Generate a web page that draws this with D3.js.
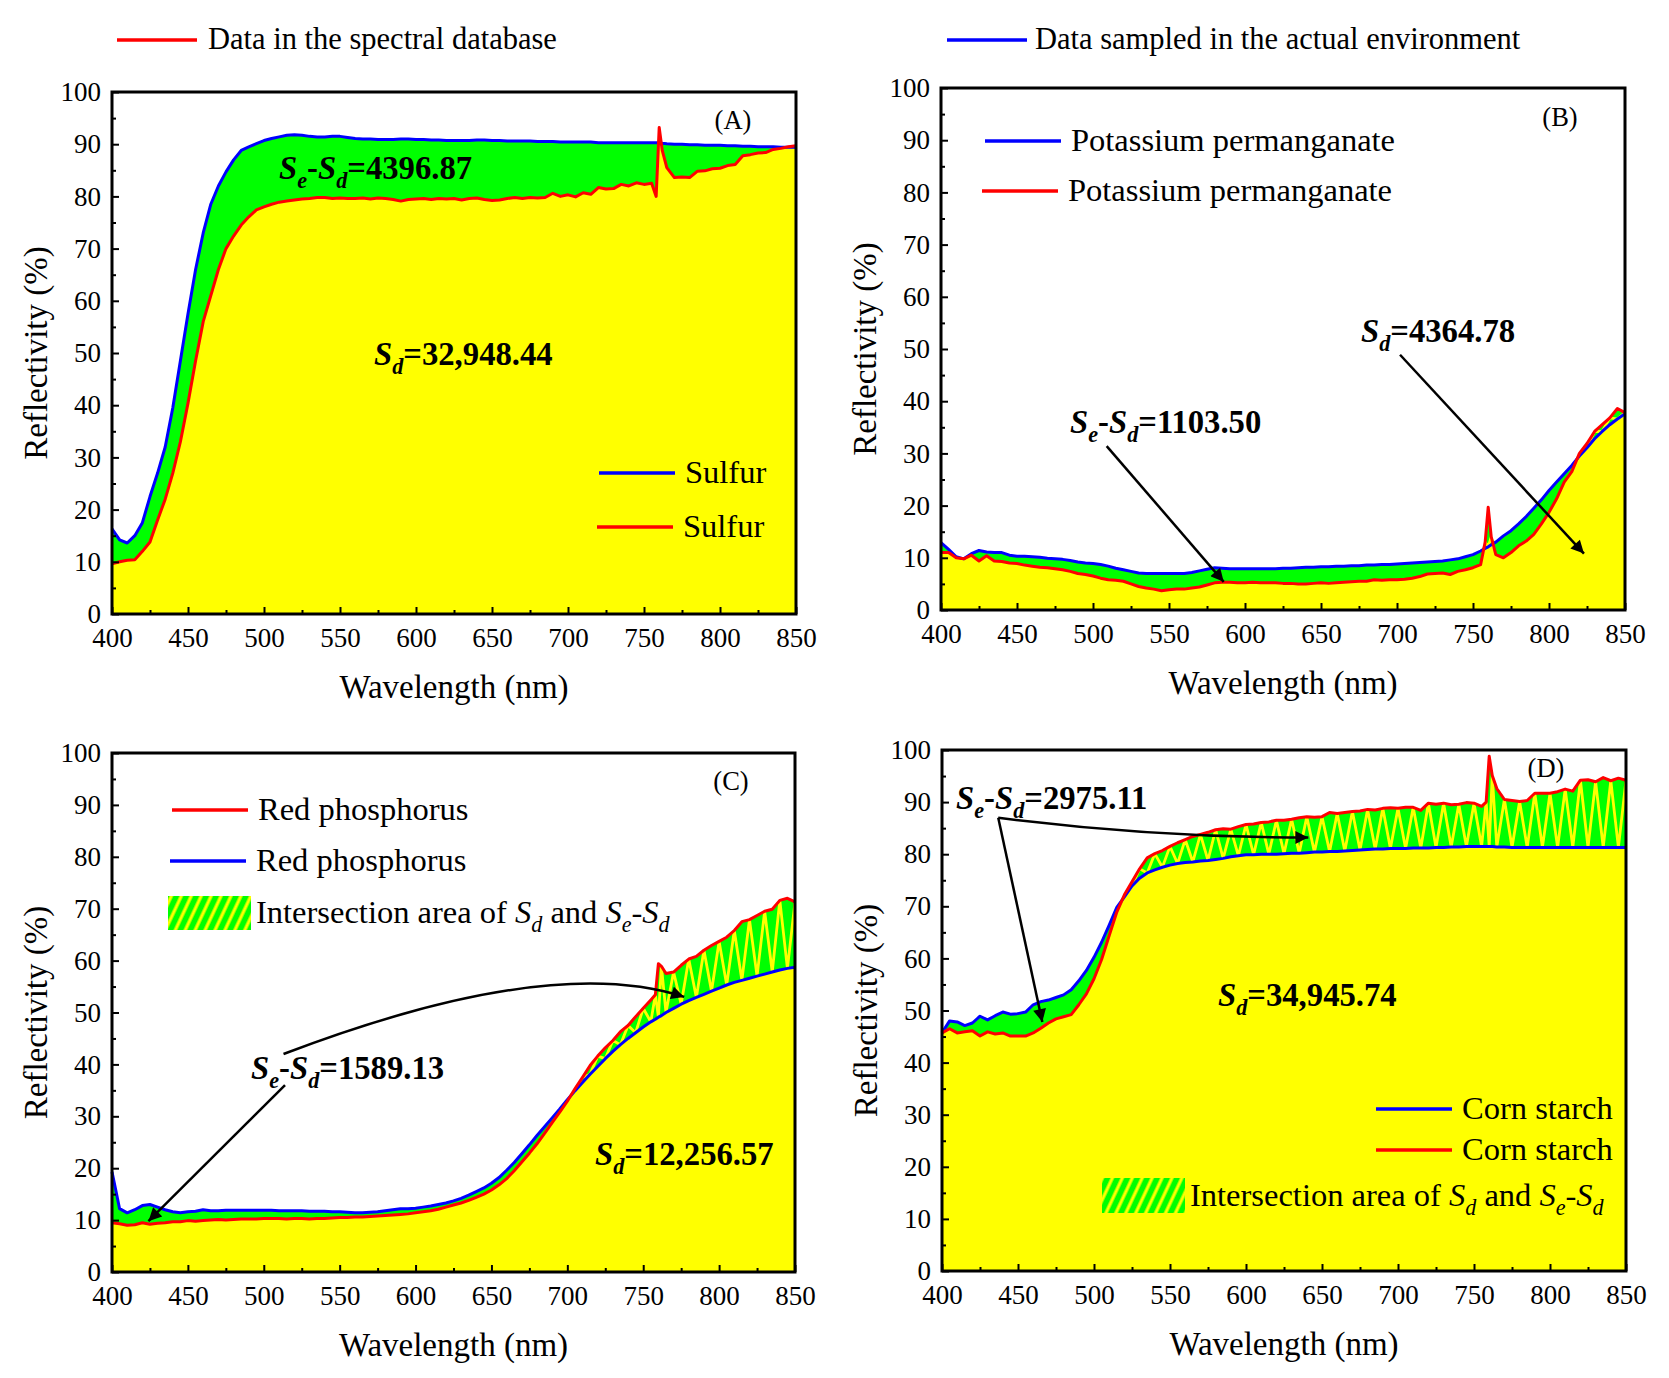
<!DOCTYPE html>
<html>
<head>
<meta charset="utf-8">
<script src="https://cdn.jsdelivr.net/npm/d3@7"></script>
<style>
body { margin: 0; background: #fff; }
svg { display: block; font-family: "Liberation Serif", "Times New Roman", serif; }
</style>
</head>
<body>
<script>
// wavelength grid (nm), a bit denser round the 760 nm line
var wavelengths = [400,405,410,415,420,425,430,435,440,445,
    450,455,460,465,470,475,480,485,490,495,
    500,505,510,515,520,525,530,535,540,545,
    550,555,560,565,570,575,580,585,590,595,
    600,605,610,615,620,625,630,635,640,645,
    650,655,660,665,670,675,680,685,690,695,
    700,705,710,715,720,725,730,735,740,745,
    750,755,758,760,762,765,770,775,780,785,
    790,795,800,805,810,815,820,825,830,835,
    840,845,850];

// (A) sulfur
var sulfurEnv = [16.3,14.2,13.6,15.0,17.5,22.5,27,32,39.5,48.5,
    57.5,66,73,78.5,82,84.7,87,88.8,89.5,90.1,
    90.7,91.1,91.4,91.7,91.8,91.7,91.5,91.4,91.4,91.5,
    91.5,91.3,91.1,91.0,91.0,90.9,90.9,90.9,91.0,91.0,
    90.9,90.9,90.8,90.8,90.7,90.7,90.7,90.7,90.8,90.8,
    90.7,90.7,90.6,90.6,90.6,90.6,90.5,90.5,90.5,90.4,
    90.4,90.4,90.4,90.4,90.3,90.3,90.3,90.3,90.3,90.3,
    90.3,90.3,90.3,90.3,90.2,90.1,90.0,90.0,89.9,89.9,
    89.8,89.8,89.8,89.7,89.7,89.6,89.6,89.5,89.5,89.5,
    89.4,89.4,89.4];
var sulfurDb = [9.6,10.0,10.3,10.4,12.0,13.8,18,22,27,33,
    40.4,48.5,56,61,66,70,72.4,74.5,76.1,77.4,
    78,78.5,78.9,79.1,79.3,79.5,79.6,79.8,79.8,79.6,
    79.7,79.6,79.6,79.7,79.5,79.7,79.6,79.4,79.1,79.4,
    79.5,79.6,79.4,79.6,79.5,79.6,79.3,79.6,79.7,79.4,
    79.2,79.3,79.6,79.8,79.6,79.8,79.7,79.8,80.6,80.0,
    80.3,79.9,80.7,80.4,81.7,81.4,81.5,82.3,82.0,82.6,
    82.3,82.5,80.0,93.2,88.8,85.5,83.6,83.7,83.6,84.8,
    84.9,85.3,85.4,85.9,86.1,87.8,88.0,88.3,88.4,89.0,
    89.2,89.5,89.7];

// (B) potassium permanganate
var kmno4Env = [12.9,11.6,10.2,9.8,10.8,11.4,11.1,11.0,11.0,10.5,
    10.3,10.3,10.2,10.1,9.9,9.8,9.7,9.5,9.2,9.0,
    8.9,8.7,8.4,8.0,7.7,7.4,7.1,7.0,7.0,7.0,
    7.0,7.0,7.0,7.2,7.5,7.8,8.1,8.0,7.9,7.9,
    7.9,7.9,7.9,7.9,7.9,8.0,8.0,8.1,8.2,8.2,
    8.3,8.3,8.4,8.4,8.5,8.5,8.6,8.6,8.7,8.7,
    8.8,8.9,9.0,9.1,9.2,9.3,9.4,9.6,9.8,10.2,
    10.6,11.3,11.8,12.1,12.5,13.0,14.2,15.2,16.5,17.9,
    19.5,21.1,22.9,24.5,26.1,27.7,29.5,31.1,32.8,34.2,
    35.5,36.6,37.6];
var kmno4Db = [11.0,11.0,10.0,9.8,10.5,9.4,10.4,9.4,9.3,9.0,
    8.9,8.6,8.4,8.2,8.1,7.9,7.7,7.4,7.0,6.8,
    6.5,6.1,5.8,5.7,5.5,5.0,4.5,4.2,4.0,3.7,
    3.9,4.0,4.0,4.2,4.4,4.8,5.2,5.3,5.3,5.2,
    5.2,5.3,5.2,5.2,5.2,5.1,5.1,5.0,5.0,5.1,
    5.2,5.1,5.2,5.3,5.4,5.5,5.5,5.8,5.7,5.8,
    5.8,5.9,6.1,6.4,6.9,7.0,7.1,6.8,7.4,7.7,
    8.1,8.7,13.0,19.7,14.0,10.6,10.0,11.0,12.3,13.2,
    14.5,16.5,18.7,21.3,24.5,26.5,30.0,31.9,34.2,35.5,
    36.8,38.6,37.8];

// (C) red phosphorus
var phosEnv = [19.3,12.2,11.4,12.0,12.8,13.0,12.5,12.0,11.6,11.4,
    11.6,11.7,12.0,11.8,11.8,11.9,11.9,11.9,11.9,11.9,
    11.9,11.9,11.8,11.8,11.8,11.8,11.7,11.7,11.7,11.6,
    11.6,11.5,11.4,11.4,11.5,11.6,11.8,12.0,12.2,12.2,
    12.3,12.5,12.7,13.0,13.3,13.7,14.2,14.8,15.5,16.2,
    17.1,18.2,19.6,21.1,22.8,24.5,26.3,28.0,29.7,31.4,
    33.2,34.9,36.5,38.1,39.6,41.1,42.5,43.8,45.0,46.1,
    47.2,48.2,48.7,49.1,49.4,50.0,50.8,51.6,52.3,52.9,
    53.5,54.1,54.7,55.3,55.8,56.2,56.6,57.0,57.4,57.8,
    58.2,58.5,58.7];
var phosDb = [9.5,9.3,9.0,9.1,9.5,9.2,9.4,9.5,9.7,9.7,
    9.9,9.8,9.9,10.0,10.1,10.0,10.1,10.2,10.2,10.2,
    10.3,10.3,10.3,10.2,10.3,10.3,10.2,10.3,10.3,10.4,
    10.5,10.5,10.6,10.6,10.7,10.8,10.9,11.0,11.1,11.2,
    11.4,11.6,11.8,12.1,12.5,12.9,13.3,13.8,14.4,15.0,
    15.8,16.8,18.0,19.5,21.2,22.9,24.7,26.7,28.8,30.8,
    32.9,35.3,37.5,39.8,41.6,43.2,44.6,46.3,47.5,49.2,
    50.8,52.4,53.4,59.4,58.9,57.5,57.8,59.1,60.3,60.8,
    62.0,62.9,63.7,64.5,65.8,67.5,67.9,68.7,69.5,69.9,
    71.6,72.0,71.3];

// (D) corn starch
var starchEnv = [45.7,48.0,47.8,47.1,47.6,48.9,48.2,49.0,49.7,49.3,
    49.4,49.7,51.1,51.7,52.0,52.5,53.0,54.0,55.7,57.7,
    60.2,63.1,66.4,69.8,71.8,73.9,75.4,76.4,77.0,77.5,
    77.9,78.2,78.4,78.5,78.7,78.8,79.0,79.2,79.5,79.7,
    79.9,79.9,80.0,80.0,80.0,80.1,80.2,80.2,80.3,80.4,
    80.4,80.5,80.5,80.6,80.7,80.8,80.9,81.0,81.0,81.1,
    81.1,81.1,81.2,81.2,81.2,81.3,81.3,81.4,81.4,81.5,
    81.5,81.5,81.5,81.5,81.5,81.4,81.4,81.3,81.3,81.3,
    81.3,81.3,81.3,81.3,81.3,81.3,81.3,81.3,81.3,81.3,
    81.3,81.3,81.3];
var starchDb = [45.7,46.5,45.7,45.9,46.1,45.1,45.9,45.5,45.7,45.1,
    45.1,45.1,45.7,46.6,47.6,48.4,48.8,49.2,51.1,53.2,
    56.1,59.8,64.4,68.9,72.2,74.7,77.2,79.3,80.1,80.7,
    81.5,82.2,82.8,83.4,83.8,84.2,84.7,84.9,84.8,85.3,
    85.7,85.8,86.1,86.2,86.5,86.5,86.7,87.0,87.2,87.1,
    87.2,88.0,87.8,88.0,88.2,88.3,88.6,88.5,88.8,88.9,
    88.8,89.0,89.0,88.4,89.8,89.6,89.8,89.5,89.6,89.9,
    89.8,89.2,90.0,98.8,95.1,92.6,90.5,90.3,90.1,90.3,
    91.7,91.7,91.7,92.0,92.5,92.1,94.2,94.3,93.9,94.7,
    94.1,94.6,94.2];

var xTicks = [400,450,500,550,600,650,700,750,800,850];
var xMinor = [425,475,525,575,625,675,725,775,825];
var yTicks = [0,10,20,30,40,50,60,70,80,90,100];
var yMinor = [5,15,25,35,45,55,65,75,85,95];

var BLUE = "#0000ff", RED = "#ff0000", GREEN = "#00ff00", YELLOW = "#ffff00";
var LEG = 32.5, NOTE = 32.7, TITLE = 33;

var svg = d3.select("body").append("svg").attr("width", 1669).attr("height", 1378);
var defs = svg.append("defs");
defs.append("marker").attr("id", "head").attr("viewBox", "0 0 10 10")
    .attr("refX", 10).attr("refY", 5).attr("markerUnits", "userSpaceOnUse")
    .attr("markerWidth", 20).attr("markerHeight", 13).attr("orient", "auto")
    .append("path").attr("d", "M0,0L10,5L0,10z").attr("fill", "#000");
var pat = defs.append("pattern").attr("id", "hatch").attr("width", 9).attr("height", 9)
    .attr("patternUnits", "userSpaceOnUse").attr("patternTransform", "rotate(25)");
pat.append("rect").attr("width", 9).attr("height", 9).attr("fill", GREEN);
pat.append("line").attr("x1", 3).attr("y1", 0).attr("x2", 3).attr("y2", 9)
    .attr("stroke", YELLOW).attr("stroke-width", 3.2);

//带下标的文字
function richText(g, x, y, parts, size, weight) {
    var t = g.append("text").attr("x", x).attr("y", y).attr("font-size", size)
        .attr("font-weight", weight || "normal");
    var low = false;
    parts.forEach(function (p) {
        var s = t.append("tspan").text(p.t);
        if (p.i) s.attr("font-style", "italic");
        if (p.sub) {
            s.attr("font-size", size * 0.68);
            if (!low) { s.attr("dy", size * 0.28); low = true; }
        } else if (low) {
            s.attr("dy", -size * 0.28); low = false;
        }
    });
    return t;
}
function SeSd(v) {
    return [{t: "S", i: 1}, {t: "e", i: 1, sub: 1}, {t: "-"}, {t: "S", i: 1}, {t: "d", i: 1, sub: 1}, {t: v}];
}
function Sd(v) {
    return [{t: "S", i: 1}, {t: "d", i: 1, sub: 1}, {t: v}];
}
var interParts = [{t: "Intersection area of "}, {t: "S", i: 1}, {t: "d", i: 1, sub: 1}, {t: " and "},
    {t: "S", i: 1}, {t: "e", i: 1, sub: 1}, {t: "-"}, {t: "S", i: 1}, {t: "d", i: 1, sub: 1}];

var panels = [
    {id: "A", left: 112, right: 796, top: 92, bottom: 614, env: sulfurEnv, db: sulfurDb, tag: [733, 121],
        legend: [{c: BLUE, x: 599, y: 473, t: "Sulfur"}, {c: RED, x: 597, y: 527, t: "Sulfur"}],
        notes: [{x: 279, y: 179, p: SeSd("=4396.87")}, {x: 374, y: 365, p: Sd("=32,948.44")}],
        arrows: []},
    {id: "B", left: 941, right: 1625, top: 88, bottom: 610, env: kmno4Env, db: kmno4Db, tag: [1560, 118],
        legend: [{c: BLUE, x: 985, y: 141, t: "Potassium permanganate"}, {c: RED, x: 982, y: 191, t: "Potassium permanganate"}],
        notes: [{x: 1361, y: 342, p: Sd("=4364.78")}, {x: 1070, y: 433, p: SeSd("=1103.50")}],
        arrows: [{from: [702, 48.9], to: [823, 10.8]}, {from: [509, 31.4], to: [586, 5.4]}]},
    {id: "C", left: 112, right: 795, top: 753, bottom: 1272, env: phosEnv, db: phosDb, tag: [731, 782],
        legend: [{c: RED, x: 172, y: 810, t: "Red phosphorus"}, {c: BLUE, x: 170, y: 861, t: "Red phosphorus"},
            {hatch: 1, x: 168, y: 896, w: 83, h: 34}],
        notes: [{x: 251, y: 1079, p: SeSd("=1589.13")}, {x: 595, y: 1165, p: Sd("=12,256.57")}],
        arrows: [{from: [514, 36], to: [424, 9.8]}, {from: [513, 42], ctrl: [688, 61.5], to: [777, 53]}]},
    {id: "D", left: 942, right: 1626, top: 750, bottom: 1271, env: starchEnv, db: starchDb, tag: [1546, 769],
        legend: [{c: BLUE, x: 1376, y: 1109, t: "Corn starch"}, {c: RED, x: 1376, y: 1150, t: "Corn starch"},
            {hatch: 1, x: 1102, y: 1178, w: 83, h: 35}],
        notes: [{x: 956, y: 809, p: SeSd("=2975.11")}, {x: 1218, y: 1006, p: Sd("=34,945.74")}],
        arrows: [{from: [437, 87], to: [466, 47.8]}, {from: [437, 87], ctrl: [540, 83.2], to: [641, 83.2]}]}
];

function drawPanel(cfg) {
    var x = d3.scaleLinear().domain([400, 850]).range([cfg.left, cfg.right]);
    var y = d3.scaleLinear().domain([0, 100]).range([cfg.bottom, cfg.top]);
    var g = svg.append("g");
    var env = cfg.env, db = cfg.db;
    var idx = d3.range(wavelengths.length);
    var px = function (i) { return x(wavelengths[i]); };

    //两条曲线之间的绿色区域
    g.append("path").datum(idx).attr("fill", GREEN)
        .attr("d", d3.area().x(px)
            .y0(function (i) { return y(db[i]); }).y1(function (i) { return y(env[i]); }));
    //黄色区域
    g.append("path").datum(idx).attr("fill", YELLOW)
        .attr("d", d3.area().x(px)
            .y0(y(0)).y1(function (i) { return y(Math.min(db[i], env[i])); }));
    //交集区域的黄色折线
    defs.append("clipPath").attr("id", "inter" + cfg.id).append("path").datum(idx)
        .attr("d", d3.area().x(px)
            .y0(function (i) { return y(env[i]); })
            .y1(function (i) { return y(Math.max(db[i], env[i])); }));
    g.append("path").datum(idx).attr("clip-path", "url(#inter" + cfg.id + ")")
        .attr("fill", "none").attr("stroke", YELLOW).attr("stroke-width", 2.8)
        .attr("d", d3.line().x(px)
            .y(function (i) { return y(i % 2 == 0 ? db[i] : env[i]); }));
    //曲线
    [[env, BLUE], [db, RED]].forEach(function (s) {
        g.append("path").datum(idx).attr("fill", "none").attr("stroke", s[1]).attr("stroke-width", 3)
            .attr("stroke-linejoin", "round")
            .attr("d", d3.line().x(px).y(function (i) { return y(s[0][i]); }));
    });

    //坐标轴
    g.append("g").attr("transform", "translate(0," + cfg.bottom + ")")
        .call(d3.axisBottom(x).tickValues(xTicks).tickSize(-7).tickPadding(14).tickFormat(d3.format("d")));
    g.append("g").attr("transform", "translate(0," + cfg.bottom + ")")
        .call(d3.axisBottom(x).tickValues(xMinor).tickSize(-4).tickFormat(""));
    g.append("g").attr("transform", "translate(" + cfg.left + ",0)")
        .call(d3.axisLeft(y).tickValues(yTicks).tickSize(-7).tickPadding(11).tickFormat(d3.format("d")));
    g.append("g").attr("transform", "translate(" + cfg.left + ",0)")
        .call(d3.axisLeft(y).tickValues(yMinor).tickSize(-4).tickFormat(""));
    g.selectAll(".domain").remove();
    g.selectAll(".tick line").attr("stroke", "#000").attr("stroke-width", 2);
    g.selectAll(".tick text").attr("font-family", "Liberation Serif, Times New Roman, serif")
        .attr("font-size", 27).attr("fill", "#000");
    g.append("rect").attr("x", cfg.left).attr("y", cfg.top)
        .attr("width", cfg.right - cfg.left).attr("height", cfg.bottom - cfg.top)
        .attr("fill", "none").attr("stroke", "#000").attr("stroke-width", 3);

    g.append("text").attr("x", (cfg.left + cfg.right) / 2).attr("y", cfg.bottom + 84)
        .attr("text-anchor", "middle").attr("font-size", TITLE).text("Wavelength (nm)");
    g.append("text").attr("transform", "translate(" + (cfg.left - 65) + "," + ((cfg.top + cfg.bottom) / 2) + ") rotate(-90)")
        .attr("text-anchor", "middle").attr("font-size", TITLE).text("Reflectivity (%)");
    g.append("text").attr("x", cfg.tag[0]).attr("y", cfg.tag[1] + 8).attr("text-anchor", "middle")
        .attr("font-size", 26.5).text("(" + cfg.id + ")");

    //图例
    cfg.legend.forEach(function (l) {
        if (l.hatch) {
            g.append("rect").attr("x", l.x).attr("y", l.y).attr("width", l.w).attr("height", l.h)
                .attr("fill", "url(#hatch)");
            richText(g, l.x + l.w + 5, l.y + l.h / 2 + 10, interParts, LEG);
        } else {
            g.append("line").attr("x1", l.x).attr("x2", l.x + 76).attr("y1", l.y).attr("y2", l.y)
                .attr("stroke", l.c).attr("stroke-width", 3.5);
            g.append("text").attr("x", l.x + 86).attr("y", l.y + 10).attr("font-size", LEG).text(l.t);
        }
    });

    //标注
    cfg.notes.forEach(function (n) {
        richText(g, n.x, n.y, n.p, NOTE, "bold");
    });
    cfg.arrows.forEach(function (a) {
        var p = d3.path();
        p.moveTo(x(a.from[0]), y(a.from[1]));
        if (a.ctrl)
            p.quadraticCurveTo(x(a.ctrl[0]), y(a.ctrl[1]), x(a.to[0]), y(a.to[1]));
        else
            p.lineTo(x(a.to[0]), y(a.to[1]));
        g.append("path").attr("d", p.toString()).attr("fill", "none").attr("stroke", "#000")
            .attr("stroke-width", 2.5).attr("marker-end", "url(#head)");
    });
}
panels.forEach(drawPanel);

//顶部图例
var headLegend = svg.append("g");
headLegend.append("line").attr("x1", 117).attr("x2", 197).attr("y1", 40).attr("y2", 40)
    .attr("stroke", RED).attr("stroke-width", 3.5);
headLegend.append("text").attr("x", 208).attr("y", 49).attr("font-size", 30.5).text("Data in the spectral database");
headLegend.append("line").attr("x1", 947).attr("x2", 1027).attr("y1", 40).attr("y2", 40)
    .attr("stroke", BLUE).attr("stroke-width", 3.5);
headLegend.append("text").attr("x", 1035).attr("y", 49).attr("font-size", 30.5).text("Data sampled in the actual environment");
</script>
</body>
</html>
